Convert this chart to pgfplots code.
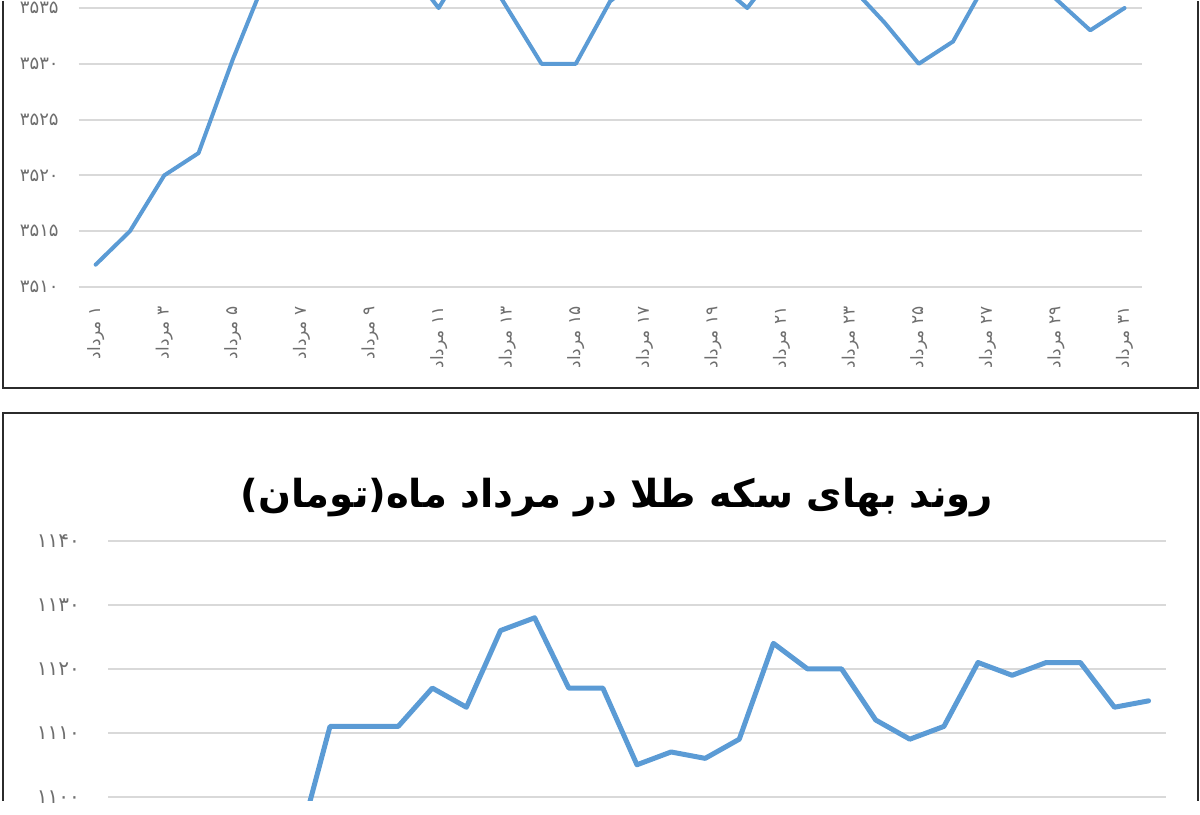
\documentclass[border=0pt]{standalone}
\usepackage{fontspec}
\usepackage{pgfplots}
\pgfplotsset{compat=1.18}
\TeXXeTstate=1
\newfontfamily\fa[Script=Arabic]{DejaVu Sans}

\definecolor{lineblue}{HTML}{5B9BD5}
\definecolor{gridgray}{HTML}{D9D9D9}
\definecolor{labgray}{HTML}{6E6E6E}
\definecolor{framegray}{HTML}{2B2B2B}

% top chart: dollar rate, bottom chart: gold coin price (Mordad)
\pgfplotsset{
  mordad/.style={
    scale only axis,
    anchor=south west,
    xmin=0.5, xmax=31.5,
    axis line style={draw=none},
    major tick length=0pt,
    ymajorgrids,
    grid style={gridgray, line width=1pt},
    xtick={1,3,...,31},
    yticklabel style={font=\fa\fontsize{9}{10}\selectfont, text=labgray, inner sep=0pt, overlay},
  },
}

\begin{document}
\begin{tikzpicture}
\path (0pt,0pt) rectangle (600pt,400pt);

\begin{axis}[mordad,
  at={(39.25pt,257pt)},
  width=531.6pt, height=143pt,
  ymin=3510, ymax=3535.63,
  ytick={3510,3515,...,3535},
  yticklabels={۳۵۱۰,۳۵۱۵,۳۵۲۰,۳۵۲۵,۳۵۳۰,۳۵۳۵},
  yticklabel shift=9.75pt,
  xticklabels={{\beginR ۱ مرداد\endR},{\beginR ۳ مرداد\endR},{\beginR ۵ مرداد\endR},
    {\beginR ۷ مرداد\endR},{\beginR ۹ مرداد\endR},{\beginR ۱۱ مرداد\endR},
    {\beginR ۱۳ مرداد\endR},{\beginR ۱۵ مرداد\endR},{\beginR ۱۷ مرداد\endR},
    {\beginR ۱۹ مرداد\endR},{\beginR ۲۱ مرداد\endR},{\beginR ۲۳ مرداد\endR},
    {\beginR ۲۵ مرداد\endR},{\beginR ۲۷ مرداد\endR},{\beginR ۲۹ مرداد\endR},
    {\beginR ۳۱ مرداد\endR}},
  xticklabel style={font=\fa\fontsize{8.5}{9}\selectfont, text=labgray, rotate=90,
    anchor=east, inner sep=0pt},
  xticklabel shift=9.5pt,
]
\addplot[lineblue, line width=2pt, line join=round, line cap=round] coordinates {
  (1,3512) (2,3515) (3,3520) (4,3522) (5,3530.4) (6,3538) (7,3539) (8,3540)
  (9,3540) (10,3539) (11,3535) (12,3540) (13,3535) (14,3530) (15,3530) (16,3535.6)
  (17,3538) (18,3538) (19,3537.6) (20,3535) (21,3539) (22,3539) (23,3537)
  (24,3533.7) (25,3530) (26,3532) (27,3537.5) (28,3538) (29,3535.8) (30,3533) (31,3535)
};
\end{axis}

\begin{axis}[mordad,
  at={(54.15pt,0pt)},
  width=528.65pt, height=129.94pt,
  ymin=1099.33, ymax=1140,
  ytick={1100,1110,...,1140},
  yticklabels={۱۱۰۰,۱۱۱۰,۱۱۲۰,۱۱۳۰,۱۱۴۰},
  yticklabel style={font=\fa\fontsize{10}{11}\selectfont},
  yticklabel shift=14pt,
  xticklabels={},
]
\addplot[lineblue, line width=2.5pt, line join=round, line cap=round] coordinates {
  (1,1086) (2,1088) (3,1087) (4,1089) (5,1090) (6,1091) (7,1111) (8,1111)
  (9,1111) (10,1117) (11,1114) (12,1126) (13,1128) (14,1117) (15,1117) (16,1105)
  (17,1107) (18,1106) (19,1109) (20,1124) (21,1120) (22,1120) (23,1112) (24,1109)
  (25,1111) (26,1121) (27,1119) (28,1121) (29,1121) (30,1114) (31,1115)
};
\end{axis}

% chart frames
\draw[framegray, line width=1pt] (1.35pt,400pt) -- (1.35pt,206.35pt) -- (599pt,206.35pt) -- (599pt,400pt);
\draw[framegray, line width=1pt] (1.35pt,0pt) -- (1.35pt,193.75pt) -- (599pt,193.75pt) -- (599pt,0pt);

\node[font=\fa\bfseries\fontsize{19.3}{23}\selectfont] at (308.5pt,151.5pt)
  {\beginR روند بهای سکه طلا در مرداد ماه(تومان)\endR};
\end{tikzpicture}
\end{document}
